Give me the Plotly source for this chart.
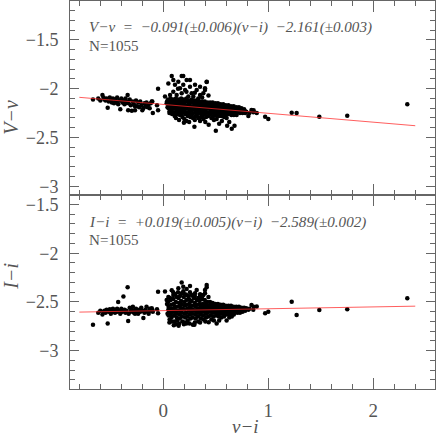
import plotly.graph_objects as go

# photometric calibration residuals
# left (blue) clump
vi_left = [-0.67, -0.58, -0.57, -0.56, -0.55, -0.54, -0.53, -0.52, -0.51, -0.50,
           -0.49, -0.48, -0.47, -0.46, -0.45, -0.44, -0.43, -0.42, -0.41, -0.40,
           -0.39, -0.38, -0.37, -0.36, -0.35, -0.34, -0.335, -0.33, -0.32, -0.31,
           -0.30, -0.29, -0.28, -0.27, -0.26, -0.25, -0.24, -0.23, -0.22, -0.21,
           -0.20, -0.19, -0.18, -0.17, -0.16, -0.15, -0.14, -0.13, -0.12, -0.11,
           -0.10, -0.105, -0.05, -0.05, -0.06, -0.62, -0.60, -0.44, -0.36, -0.27]
vv_left = [-2.11, -2.065, -2.09, -2.11, -2.12, -2.10, -2.195, -2.13, -2.09, -2.12,
           -2.14, -2.10, -2.15, -2.11, -2.13, -2.09, -2.16, -2.12, -2.21, -2.10,
           -2.14, -2.12, -2.16, -2.10, -2.13, -2.065, -2.22, -2.15, -2.11, -2.17,
           -2.225, -2.13, -2.16, -2.22, -2.12, -2.18, -2.14, -2.19, -2.13, -2.17,
           -2.22, -2.20, -2.15, -2.18, -2.14, -2.19, -2.16, -2.20, -2.15, -2.13,
           -2.25, -2.13, -2.00, -2.22, -2.17, -2.10, -2.12, -2.14, -2.15, -2.18]
ii_left = [-2.735, -2.63, -2.60, -2.59, -2.61, -2.58, -2.72, -2.60, -2.575, -2.62,
           -2.59, -2.57, -2.60, -2.61, -2.58, -2.60, -2.50, -2.59, -2.62, -2.57,
           -2.60, -2.445, -2.58, -2.61, -2.59, -2.35, -2.695, -2.62, -2.56, -2.60,
           -2.58, -2.55, -2.61, -2.59, -2.57, -2.60, -2.62, -2.58, -2.60, -2.56,
           -2.59, -2.665, -2.61, -2.58, -2.55, -2.60, -2.62, -2.57, -2.59, -2.565,
           -2.60, -2.58, -2.395, -2.615, -2.575, -2.61, -2.59, -2.57, -2.60, -2.62]

# main (red) clump
vi_main = [0.045, 0.05, 0.055, 0.05, 0.06, 0.048, 0.058,
           0.07, 0.075, 0.08, 0.072, 0.078, 0.083, 0.07,
           0.095, 0.1, 0.105, 0.098, 0.103, 0.108, 0.1, 0.096,
           0.12, 0.125, 0.13, 0.122, 0.128, 0.132, 0.12,
           0.145, 0.15, 0.155, 0.148, 0.152, 0.158, 0.15, 0.146,
           0.17, 0.175, 0.18, 0.172, 0.178, 0.182, 0.17,
           0.195, 0.2, 0.205, 0.198, 0.203, 0.208, 0.2, 0.196,
           0.22, 0.225, 0.23, 0.222, 0.228, 0.232, 0.22,
           0.245, 0.25, 0.255, 0.248, 0.252, 0.258, 0.25, 0.246,
           0.27, 0.275, 0.28, 0.272, 0.278, 0.282, 0.27,
           0.295, 0.3, 0.305, 0.298, 0.303, 0.308, 0.3, 0.296,
           0.32, 0.325, 0.33, 0.322, 0.328, 0.332, 0.32,
           0.345, 0.35, 0.355, 0.348, 0.352, 0.358, 0.35, 0.346,
           0.37, 0.375, 0.38, 0.372, 0.378, 0.382, 0.37,
           0.395, 0.4, 0.405, 0.398, 0.403, 0.408, 0.4, 0.396,
           0.42, 0.425, 0.43, 0.422, 0.428, 0.432, 0.42,
           0.445, 0.45, 0.455, 0.448, 0.452, 0.458, 0.45,
           0.47, 0.475, 0.48, 0.472, 0.478, 0.482, 0.47,
           0.495, 0.5, 0.505, 0.498, 0.503, 0.508, 0.5,
           0.52, 0.525, 0.53, 0.522, 0.528, 0.532,
           0.545, 0.55, 0.555, 0.548, 0.552, 0.558,
           0.57, 0.575, 0.58, 0.572, 0.578, 0.582,
           0.595, 0.6, 0.605, 0.598, 0.603, 0.608,
           0.62, 0.625, 0.63, 0.622, 0.628,
           0.645, 0.65, 0.655, 0.648, 0.652, 0.658,
           0.67, 0.675, 0.68, 0.672, 0.678,
           0.695, 0.7, 0.705, 0.698, 0.703,
           0.72, 0.725, 0.73, 0.722,
           0.745, 0.75, 0.755, 0.748,
           0.77, 0.775, 0.78,
           0.032, 0.035, 0.04]
vv_main = [-2.11, -2.14, -2.17, -2.20, -2.23, -2.16, -2.25,
           -2.10, -2.13, -2.16, -2.19, -2.22, -2.26, -2.15,
           -2.11, -2.14, -2.17, -2.20, -2.24, -2.28, -2.12, -2.18,
           -2.10, -2.13, -2.16, -2.19, -2.22, -2.26, -2.30,
           -2.11, -2.14, -2.17, -2.20, -2.23, -2.27, -2.32, -2.18,
           -2.10, -2.15, -2.18, -2.21, -2.25, -2.29, -2.13,
           -2.11, -2.14, -2.17, -2.20, -2.23, -2.26, -2.31, -2.35,
           -2.10, -2.13, -2.17, -2.20, -2.24, -2.28, -2.33,
           -2.12, -2.15, -2.18, -2.21, -2.25, -2.29, -2.14, -2.34,
           -2.11, -2.14, -2.18, -2.22, -2.26, -2.30, -2.20,
           -2.12, -2.15, -2.18, -2.21, -2.24, -2.28, -2.32, -2.39,
           -2.12, -2.16, -2.19, -2.22, -2.26, -2.30, -2.14,
           -2.13, -2.16, -2.19, -2.22, -2.25, -2.29, -2.33, -2.18,
           -2.13, -2.17, -2.20, -2.23, -2.27, -2.31, -2.15,
           -2.13, -2.16, -2.19, -2.22, -2.25, -2.29, -2.34, -2.18,
           -2.14, -2.17, -2.20, -2.24, -2.28, -2.37, -2.16,
           -2.14, -2.17, -2.20, -2.23, -2.26, -2.30, -2.19,
           -2.14, -2.18, -2.21, -2.24, -2.28, -2.32, -2.16,
           -2.15, -2.18, -2.21, -2.24, -2.27, -2.31, -2.43,
           -2.15, -2.18, -2.21, -2.24, -2.28, -2.36,
           -2.16, -2.19, -2.22, -2.25, -2.28, -2.33,
           -2.16, -2.19, -2.22, -2.25, -2.29, -2.20,
           -2.17, -2.20, -2.23, -2.26, -2.30, -2.38,
           -2.17, -2.20, -2.23, -2.26, -2.34,
           -2.18, -2.21, -2.24, -2.27, -2.41, -2.20,
           -2.18, -2.21, -2.24, -2.27, -2.38,
           -2.19, -2.21, -2.24, -2.27, -2.22,
           -2.19, -2.22, -2.25, -2.21,
           -2.20, -2.22, -2.25, -2.23,
           -2.21, -2.23, -2.25,
           -2.15, -2.13, -2.19]
ii_main = [-2.50, -2.55, -2.60, -2.64, -2.68, -2.58, -2.71,
           -2.48, -2.53, -2.57, -2.61, -2.66, -2.70, -2.63,
           -2.47, -2.52, -2.56, -2.60, -2.64, -2.70, -2.74, -2.58,
           -2.50, -2.55, -2.59, -2.62, -2.66, -2.69, -2.73,
           -2.46, -2.51, -2.55, -2.59, -2.63, -2.67, -2.72, -2.745,
           -2.49, -2.53, -2.57, -2.61, -2.65, -2.70, -2.58,
           -2.45, -2.50, -2.54, -2.58, -2.62, -2.66, -2.71, -2.73,
           -2.48, -2.53, -2.57, -2.61, -2.65, -2.69, -2.72,
           -2.47, -2.51, -2.55, -2.59, -2.63, -2.67, -2.72, -2.58,
           -2.49, -2.54, -2.58, -2.62, -2.66, -2.735, -2.60,
           -2.46, -2.51, -2.55, -2.59, -2.63, -2.67, -2.71, -2.735,
           -2.48, -2.53, -2.57, -2.61, -2.65, -2.70, -2.59,
           -2.49, -2.53, -2.56, -2.60, -2.63, -2.67, -2.71, -2.57,
           -2.47, -2.52, -2.56, -2.60, -2.64, -2.68, -2.58,
           -2.48, -2.52, -2.56, -2.59, -2.62, -2.66, -2.70, -2.545,
           -2.50, -2.54, -2.58, -2.61, -2.65, -2.708, -2.57,
           -2.50, -2.54, -2.57, -2.60, -2.64, -2.68, -2.56,
           -2.51, -2.55, -2.58, -2.61, -2.65, -2.69, -2.57,
           -2.52, -2.55, -2.58, -2.61, -2.64, -2.72, -2.57,
           -2.52, -2.56, -2.59, -2.62, -2.65, -2.69,
           -2.53, -2.56, -2.59, -2.62, -2.66, -2.58,
           -2.53, -2.56, -2.59, -2.62, -2.65, -2.575,
           -2.54, -2.57, -2.60, -2.63, -2.69, -2.585,
           -2.54, -2.57, -2.60, -2.63, -2.66,
           -2.54, -2.57, -2.60, -2.62, -2.65, -2.58,
           -2.55, -2.57, -2.60, -2.63, -2.59,
           -2.55, -2.58, -2.61, -2.585, -2.56,
           -2.55, -2.58, -2.61, -2.57,
           -2.56, -2.58, -2.60, -2.57,
           -2.56, -2.58, -2.59,
           -2.479, -2.52, -2.62]

# bright plume above the main clump
vi_plume = [0.08, 0.175, 0.19, 0.048, 0.095, 0.111, 0.143, 0.159, 0.19, 0.207,
            0.222, 0.254, 0.254, 0.27, 0.302, 0.318, 0.35, 0.35, 0.397, 0.413,
            0.413, 0.381, 0.397, 0.095, 0.064, 0.127, 0.175, 0.238, 0.286, 0.333,
            0.016, 0.14, 0.22, 0.30, 0.43, 0.37]
vv_plume = [-1.87, -1.87, -1.87, -1.945, -1.91, -1.96, -1.928, -1.996, -1.96, -2.013,
            -1.91, -1.98, -1.91, -2.047, -1.96, -2.013, -2.065, -1.98, -1.996, -1.928,
            -1.93, -2.047, -2.013, -2.03, -2.065, -2.065, -2.047, -2.08, -2.08, -2.10,
            -2.08, -2.00, -2.03, -2.04, -2.07, -2.09]
ii_plume = [-2.38, -2.30, -2.345, -2.45, -2.40, -2.42, -2.36, -2.44, -2.39, -2.42,
            -2.367, -2.336, -2.40, -2.43, -2.41, -2.377, -2.44, -2.42, -2.41, -2.326,
            -2.35, -2.43, -2.377, -2.43, -2.46, -2.45, -2.41, -2.44, -2.45, -2.46,
            -2.394, -2.40, -2.43, -2.44, -2.45, -2.47]

# red tail and isolated stars
vi_tail = [0.79, 0.81, 0.84, 0.857, 0.89, 0.97, 1.0, 0.86, 0.82,
           1.223, 1.27, 1.486, 1.752, 2.324]
vv_tail = [-2.236, -2.28, -2.219, -2.24, -2.25, -2.287, -2.31, -2.22, -2.25,
           -2.246, -2.25, -2.287, -2.277, -2.16]
ii_tail = [-2.565, -2.58, -2.531, -2.58, -2.548, -2.616, -2.60, -2.55, -2.57,
           -2.497, -2.633, -2.582, -2.575, -2.462]

# fits: slope, zero point
fit_vv = (-0.091, -2.161)
fit_ii = (0.019, -2.589)
fit_x = [-0.8, 2.4]

vi = vi_left + vi_main + vi_plume + vi_tail
vv = vv_left + vv_main + vv_plume + vv_tail
ii = ii_left + ii_main + ii_plume + ii_tail

GREY = "#555555"
AXC = "#666666"
FONT = "Liberation Serif"

fig = go.Figure()

fig.add_trace(go.Scatter(
    x=vi, y=vv, mode="markers",
    marker={"size": 4.5, "color": "black"},
    xaxis="x", yaxis="y",
))
fig.add_trace(go.Scatter(
    x=fit_x, y=[fit_vv[0] * v + fit_vv[1] for v in fit_x], mode="lines",
    line={"color": "rgba(255,40,40,0.75)", "width": 1},
    xaxis="x", yaxis="y",
))
fig.add_trace(go.Scatter(
    x=vi, y=ii, mode="markers",
    marker={"size": 4.5, "color": "black"},
    xaxis="x2", yaxis="y2",
))
fig.add_trace(go.Scatter(
    x=fit_x, y=[fit_ii[0] * v + fit_ii[1] for v in fit_x], mode="lines",
    line={"color": "rgba(255,40,40,0.75)", "width": 1},
    xaxis="x2", yaxis="y2",
))

xcommon = dict(
    range=[-0.889, 2.588],
    tick0=0, dtick=1,
    ticks="inside", ticklen=11, tickcolor=AXC,
    minor={"dtick": 0.2, "ticks": "inside", "ticklen": 5, "tickcolor": AXC},
    showline=True, linecolor=AXC, linewidth=1, mirror="allticks",
    showgrid=False, zeroline=False,
    tickfont={"family": FONT, "size": 19, "color": GREY},
)
ycommon = dict(
    tick0=0, dtick=0.5,
    ticks="inside", ticklen=9, tickcolor=AXC,
    minor={"dtick": 0.1, "ticks": "inside", "ticklen": 5, "tickcolor": AXC},
    showline=True, linecolor=AXC, linewidth=1, mirror="allticks",
    showgrid=False, zeroline=False,
    tickfont={"family": FONT, "size": 18, "color": GREY},
    ticklabelstandoff=7,
)

fig.update_layout(
    width=436, height=436,
    margin={"l": 70, "r": 1, "t": 1, "b": 47},
    paper_bgcolor="white", plot_bgcolor="white",
    showlegend=False,
    xaxis=dict(xcommon, anchor="y", matches="x2", showticklabels=False),
    xaxis2=dict(xcommon, anchor="y2", ticklabelstandoff=4),
    yaxis=dict(ycommon, domain=[0.5, 1], range=[-3.09, -1.10]),
    yaxis2=dict(ycommon, domain=[0, 0.5], range=[-3.393, -1.403]),
)

txt = {"family": FONT, "size": 15.1, "color": GREY}
sp = "\u00a0"
annots = [
    (0.047, 0.932, f"<i>V−v{sp}{sp}={sp}{sp}−0.091(±0.006)(v−i){sp}{sp}−2.161(±0.003)</i>"),
    (0.047, 0.883, "N=1055"),
    (0.047, 0.430, f"<i>I−i{sp}{sp}={sp}{sp}+0.019(±0.005)(v−i){sp}{sp}−2.589(±0.002)</i>"),
    (0.047, 0.384, "N=1055"),
]
for x, y, t in annots:
    fig.add_annotation(x=x, y=y, xref="paper", yref="paper", text=t,
                       showarrow=False, xanchor="left", yanchor="middle", font=txt)

lab = {"family": FONT, "size": 20, "color": GREY}
fig.add_annotation(x=-0.164, y=0.75, xref="paper", yref="paper", text="<i>V−v</i>",
                   textangle=-90, showarrow=False, xanchor="center", font=lab)
fig.add_annotation(x=-0.164, y=0.25, xref="paper", yref="paper", text="<i>I−i</i>",
                   textangle=-90, showarrow=False, xanchor="center", font=lab)
fig.add_annotation(x=0.482, y=-0.096, xref="paper", yref="paper", text="<i>v−i</i>",
                   showarrow=False, yanchor="middle", font=dict(lab, size=19))

# the page's default 8px body margin would push the figure off the window
fig.write_html("out.html", config={"displayModeBar": False},
               post_script="document.body.style.margin='0';")
